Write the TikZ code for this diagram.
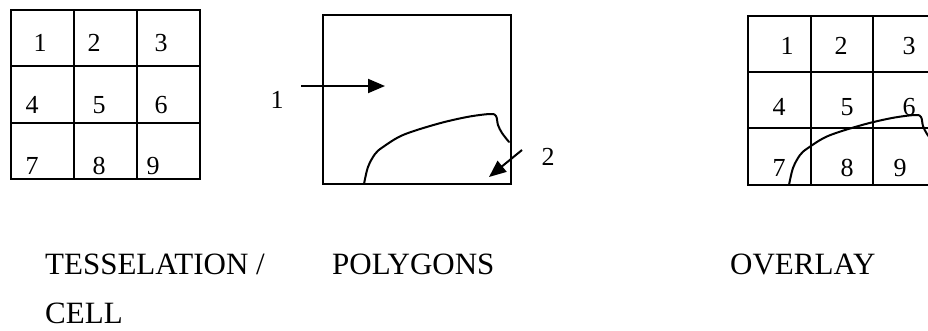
\documentclass[tikz,border=0pt]{standalone}
\usepackage{fontspec}
\setmainfont{Liberation Serif}
\usetikzlibrary{arrows.meta}
\begin{document}
\begin{tikzpicture}[x=1pt,y=-1pt,
  gridline/.style={line width=2.3pt,line cap=rect},
  curveline/.style={line width=2pt,line cap=round,line join=round},
  digit/.style={inner sep=0pt,font=\fontsize{26}{30}\selectfont},
  caption/.style={inner sep=0pt,anchor=base west,font=\fontsize{31}{36}\selectfont},
  pointer/.style={line width=2pt,-{Triangle[length=17pt,width=14pt]}},
  blob/.pic={\draw[curveline] plot[smooth,tension=0.55] coordinates {
    (364,184) (368,167) (375,154) (383,147) (403,135) (437,124) (467,117)
    (490,114) (496,116) (498,125) (502,133) (509,142)};}]
\useasboundingbox (0,0) rectangle (928,330);
\clip (0,0) rectangle (928,330);
% left grid
\draw[gridline] (11,10) rectangle (200,179);
\draw[gridline] (74,10) -- (74,179) (137,10) -- (137,179)
  (11,66) -- (200,66) (11,123) -- (200,123);
\node[digit] (l1) at (40,43) {1};
\node[digit] (l2) at (94,43) {2};
\node[digit] (l3) at (161,43) {3};
\node[digit] (l4) at (32,105) {4};
\node[digit] (l5) at (99,105) {5};
\node[digit] (l6) at (161,105) {6};
\node[digit] (l7) at (32,166) {7};
\node[digit] (l8) at (99,166) {8};
\node[digit] (l9) at (153,166) {9};
% polygons
\draw[gridline] (323,15) rectangle (511,184);
\pic (polyblob) at (0,0) {blob};
\node[digit] (p1) at (277,100) {1};
\node[digit] (p2) at (548,157) {2};
\coordinate (a1s) at (301,86);
\coordinate (a1e) at (385,86);
\coordinate (a2s) at (522,150);
\coordinate (a2e) at (489,177);
\draw[pointer] (a1s) -- (a1e);
\draw[pointer] (a2s) -- (a2e);
% overlay grid
\draw[gridline] (748,16) rectangle (936,185);
\draw[gridline] (811,16) -- (811,185) (873,16) -- (873,185)
  (748,72) -- (936,72) (748,128) -- (936,128);
\node[digit] (o1) at (787,46) {1};
\node[digit] (o2) at (841,46) {2};
\node[digit] (o3) at (909,46) {3};
\node[digit] (o4) at (779,107) {4};
\node[digit] (o5) at (847,107) {5};
\node[digit] (o6) at (909,107) {6};
\node[digit] (o7) at (779,168) {7};
\node[digit] (o8) at (847,168) {8};
\node[digit] (o9) at (900,168) {9};
\pic (overblob) at (425,1) {blob};
% captions
\node[caption] (c1) at (45,274) {TESSELATION /};
\node[caption] (c2) at (45,323) {CELL};
\node[caption] (c3) at (332,274) {POLYGONS};
\node[caption] (c4) at (730,274) {OVERLAY};
\end{tikzpicture}
\end{document}
